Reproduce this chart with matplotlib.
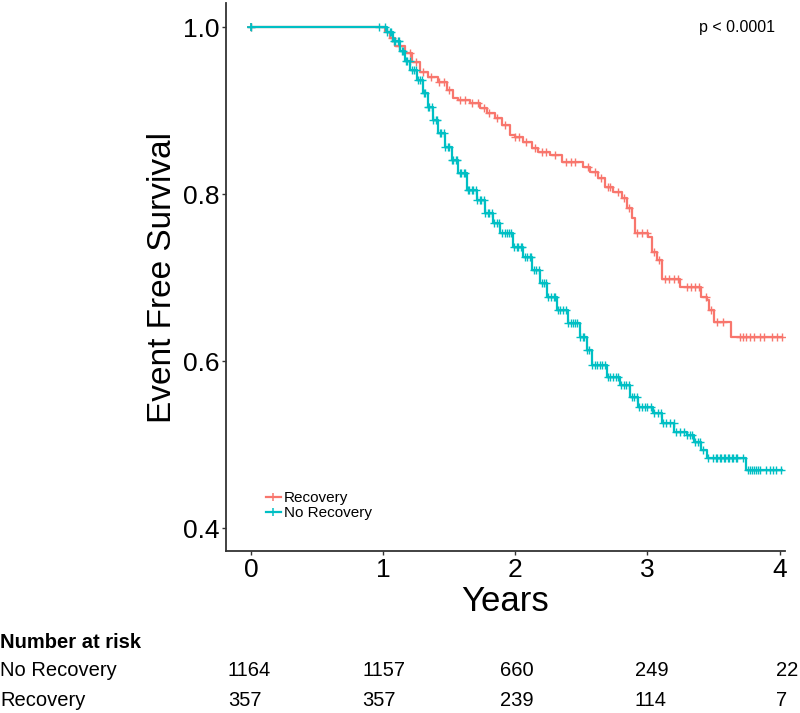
import numpy as np
import matplotlib
matplotlib.use("Agg")
import matplotlib.pyplot as plt

plt.rcParams['font.family'] = ['Liberation Sans', 'DejaVu Sans']

# step curve: Recovery
rec_t = [0.0, 1.013, 1.051, 1.088, 1.164, 1.217, 1.277, 1.338, 1.413, 1.481, 1.527,
         1.565, 1.655, 1.731, 1.784, 1.844, 1.897, 1.958, 1.995, 2.056, 2.124, 2.169,
         2.260, 2.351, 2.373, 2.509, 2.562, 2.623, 2.676, 2.736, 2.804, 2.842, 2.880,
         2.903, 3.001, 3.031, 3.069, 3.107, 3.114, 3.243, 3.409, 3.454, 3.469, 3.507,
         3.636, 4.02]
rec_s = [1.0, 0.994, 0.987, 0.978, 0.969, 0.958, 0.946, 0.940, 0.934, 0.925, 0.915,
         0.913, 0.909, 0.903, 0.897, 0.891, 0.883, 0.871, 0.868, 0.862, 0.855, 0.850,
         0.847, 0.838, 0.838, 0.832, 0.826, 0.819, 0.808, 0.802, 0.795, 0.784, 0.772,
         0.754, 0.749, 0.731, 0.721, 0.713, 0.698, 0.689, 0.677, 0.673, 0.661, 0.647,
         0.629, 0.629]
rec_cens = [0.0, 1.07, 1.12, 1.2, 1.25, 1.3, 1.36, 1.42, 1.46, 1.5, 1.58, 1.62, 1.67,
            1.72, 1.76, 1.8, 1.86, 1.92, 2.0, 2.03, 2.08, 2.15, 2.2, 2.23, 2.3, 2.38,
            2.42, 2.45, 2.55, 2.6, 2.65, 2.7, 2.72, 2.78, 2.82, 2.86, 2.92, 2.96, 3.0,
            3.05, 3.09, 3.13, 3.16, 3.2, 3.23, 3.3, 3.33, 3.36, 3.39, 3.44, 3.48, 3.53,
            3.57, 3.7, 3.72, 3.75, 3.78, 3.81, 3.85, 3.88, 3.94, 3.98, 4.02]

# step curve: No Recovery
nor_t = [0.0, 0.975, 1.028, 1.073, 1.126, 1.164, 1.202, 1.255, 1.300, 1.338, 1.376,
         1.413, 1.466, 1.519, 1.565, 1.633, 1.708, 1.769, 1.829, 1.882, 1.980, 2.056,
         2.124, 2.184, 2.237, 2.313, 2.396, 2.487, 2.540, 2.577, 2.691, 2.789, 2.865,
         2.925, 3.039, 3.114, 3.205, 3.296, 3.356, 3.409, 3.454, 3.749, 4.02]
nor_s = [1.0, 1.0, 0.994, 0.984, 0.972, 0.960, 0.949, 0.937, 0.921, 0.904, 0.889,
         0.873, 0.856, 0.841, 0.825, 0.805, 0.793, 0.778, 0.765, 0.753, 0.737, 0.725,
         0.709, 0.693, 0.677, 0.661, 0.646, 0.629, 0.613, 0.595, 0.581, 0.571, 0.557,
         0.545, 0.538, 0.526, 0.515, 0.511, 0.503, 0.493, 0.484, 0.469, 0.469]
nor_cens = [0.0, 0.97, 1.01, 1.03, 1.05, 1.06, 1.08, 1.09, 1.11, 1.12, 1.14, 1.15,
            1.17, 1.18, 1.2, 1.22, 1.23, 1.25, 1.26, 1.28, 1.29, 1.31, 1.32, 1.34,
            1.35, 1.37, 1.38, 1.4, 1.41, 1.43, 1.44, 1.46, 1.47, 1.49, 1.5, 1.52,
            1.53, 1.55, 1.56, 1.58, 1.59, 1.61, 1.62, 1.64, 1.65, 1.67, 1.68, 1.7,
            1.71, 1.73, 1.74, 1.76, 1.77, 1.79, 1.8, 1.82, 1.84, 1.86, 1.88, 1.9,
            1.92, 1.94, 1.95, 1.97, 1.99, 2.01, 2.02, 2.04, 2.05, 2.07, 2.09, 2.11,
            2.12, 2.14, 2.16, 2.18, 2.2, 2.22, 2.23, 2.25, 2.27, 2.29, 2.3, 2.32,
            2.34, 2.36, 2.38, 2.4, 2.42, 2.44, 2.45, 2.47, 2.49, 2.51, 2.52, 2.54,
            2.56, 2.58, 2.6, 2.62, 2.64, 2.66, 2.68, 2.7, 2.72, 2.74, 2.76, 2.78,
            2.8, 2.82, 2.84, 2.86, 2.88, 2.9, 2.92, 2.94, 2.96, 2.98, 3.0, 3.03,
            3.05, 3.08, 3.1, 3.12, 3.14, 3.17, 3.2, 3.22, 3.25, 3.28, 3.3, 3.32,
            3.34, 3.36, 3.38, 3.4, 3.42, 3.46, 3.5, 3.52, 3.53, 3.55, 3.56, 3.58,
            3.59, 3.61, 3.62, 3.64, 3.65, 3.67, 3.68, 3.72, 3.76, 3.78, 3.79, 3.81,
            3.82, 3.84, 3.85, 3.9, 3.93, 3.95, 3.97, 4.01]

groups = ['Recovery', 'No Recovery']
colors = ['#F8766D', '#00BFC4']

x_ticks = [0, 1, 2, 3, 4]
y_ticks = [0.4, 0.6, 0.8, 1.0]

risk_rows = ['No Recovery', 'Recovery']
risk_nor = [1164, 1157, 660, 249, 22]
risk_rec = [357, 357, 239, 114, 7]
p_text = 'p < 0.0001'


def surv_at(t_knots, s_knots, times):
    idx = np.searchsorted(t_knots, times, side='right') - 1
    return np.asarray(s_knots)[np.clip(idx, 0, len(s_knots) - 1)]


fig = plt.figure(figsize=(8, 7.13), dpi=100)
ax = fig.add_axes([0.2825, 0.2272, 0.6985, 0.7686])

curves = [(rec_t, rec_s, rec_cens), (nor_t, nor_s, nor_cens)]
for (t, s, cens), name, col in zip(curves, groups, colors):
    ax.step(t, s, where='post', color=col, lw=1.6, label=name,
            marker='+', markevery=[0], ms=6, mew=1.1)
    ax.plot(cens, surv_at(t, s, cens), '+', color=col, ms=5.5, mew=1.0)

ax.set_xlim(-0.19, 4.04)
ax.set_ylim(0.3725, 1.029)
ax.set_xticks(x_ticks)
ax.set_xticklabels([str(v) for v in x_ticks])
ax.set_yticks(y_ticks)
ax.set_yticklabels(['%.1f' % v for v in y_ticks])
ax.tick_params(labelsize=19, length=3, width=1, pad=2, color='#333333', labelcolor='black')
for sp in ['top', 'right']:
    ax.spines[sp].set_visible(False)
for sp in ['left', 'bottom']:
    ax.spines[sp].set_linewidth(1.3)
    ax.spines[sp].set_color('#333333')

ax.set_xlabel('Years', fontsize=25, labelpad=2)
ax.set_ylabel('Event Free Survival', fontsize=24, labelpad=3)

ax.text(0.982, 0.955, p_text, transform=ax.transAxes, ha='right', va='center', fontsize=11.5)

leg = ax.legend(loc='lower left', bbox_to_anchor=(0.06, 0.045), frameon=False,
                fontsize=11, handlelength=1.0, handletextpad=0.2, labelspacing=0.05,
                borderaxespad=0)

# number at risk table
fig.text(0.0, 1 - 643 / 713, 'Number at risk', fontsize=14.5, fontweight='bold', va='center')
col_x = [228, 362, 500, 635, 776]
row_y = [671, 700]
for lab, vals, yy in zip(risk_rows, [risk_nor, risk_rec], row_y):
    fig.text(0.0, 1 - yy / 713, lab, fontsize=14.5, va='center')
    for xx, v in zip(col_x, vals):
        fig.text(xx / 800, 1 - yy / 713, str(v), fontsize=14.5, va='center')

fig.savefig('out.png', dpi=100)
